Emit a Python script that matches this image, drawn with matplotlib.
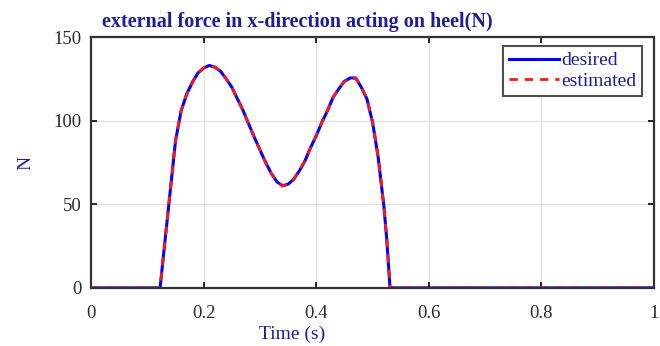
import matplotlib
matplotlib.use("Agg")
import matplotlib.pyplot as plt

# 读图得到的数据点 (时间 s, 力 N)
time_s = [0.0, 0.1226, 0.13, 0.14, 0.15, 0.16, 0.17, 0.18, 0.19, 0.20,
          0.21, 0.22, 0.23, 0.24, 0.25, 0.26, 0.27, 0.28, 0.29, 0.30,
          0.31, 0.32, 0.33, 0.34, 0.35, 0.36, 0.37, 0.38, 0.39, 0.40,
          0.41, 0.42, 0.43, 0.44, 0.45, 0.46, 0.47, 0.48, 0.49, 0.50,
          0.51, 0.52, 0.525, 0.531, 0.6, 0.8, 1.0]
force_desired = [0, 0, 24, 56, 88, 106, 116, 123, 128.5, 131.5,
                 133, 132, 129.5, 125, 120, 113, 106, 98, 90, 82.5,
                 75, 68.5, 63.5, 61, 62, 65, 70, 76, 84, 91,
                 99, 106, 114, 119, 123.5, 125.5, 125.5, 120, 113, 99,
                 78, 49, 30, 0, 0, 0, 0]
force_estimated = list(force_desired)

x_ticks = [0, 0.2, 0.4, 0.6, 0.8, 1]
x_tick_labels = ["0", "0.2", "0.4", "0.6", "0.8", "1"]
y_ticks = [0, 50, 100, 150]

text_blue = "#1c1c9c"
plt.rcParams['font.family'] = ['Liberation Serif', 'DejaVu Serif']

fig = plt.figure(figsize=(6.6, 3.46), dpi=100)
ax = fig.add_axes([0.138, 0.168, 0.853, 0.725])

ax.plot(time_s, force_desired, color=(0, 0, 1), linewidth=2.2, label="desired")
ax.plot(time_s, force_estimated, color=(0.95, 0.1, 0.1), linewidth=2.0,
        linestyle=(0, (3, 2.5)), label="estimated")

ax.set_xlim(0, 1)
ax.set_ylim(0, 150)
ax.set_xticks(x_ticks)
ax.set_xticklabels(x_tick_labels)
ax.set_yticks(y_ticks)
ax.tick_params(direction="in", length=4, width=1.2, labelsize=13.5,
               labelcolor="#2a2a2a", top=True, right=True)
ax.tick_params(axis="x", pad=12)
ax.tick_params(axis="y", pad=7)
for sp in ax.spines.values():
    sp.set_linewidth(1.6)
    sp.set_color("#333333")
ax.grid(True, color="#e0e0e0", linewidth=0.9)

ax.set_title("external force in x-direction acting on heel(N)",
             fontsize=14.5, fontweight="bold", color=text_blue, pad=7, x=0.366)
ax.set_xlabel("Time (s)", fontsize=14, color=text_blue)
ax.xaxis.set_label_coords(0.357, -0.15)
ax.set_ylabel("N", fontsize=14, color=text_blue)
ax.yaxis.set_label_coords(-0.10, 0.5)

leg = ax.legend(loc="upper right", bbox_to_anchor=(0.9787, 0.964),
                fontsize=14, frameon=True, fancybox=False,
                handlelength=2.6, handletextpad=0.1, borderpad=0.3,
                labelspacing=0.15, borderaxespad=0)
leg.get_frame().set_edgecolor("#222222")
leg.get_frame().set_linewidth(1.5)
for t in leg.get_texts():
    t.set_color(text_blue)

fig.savefig("out.png", dpi=100)
